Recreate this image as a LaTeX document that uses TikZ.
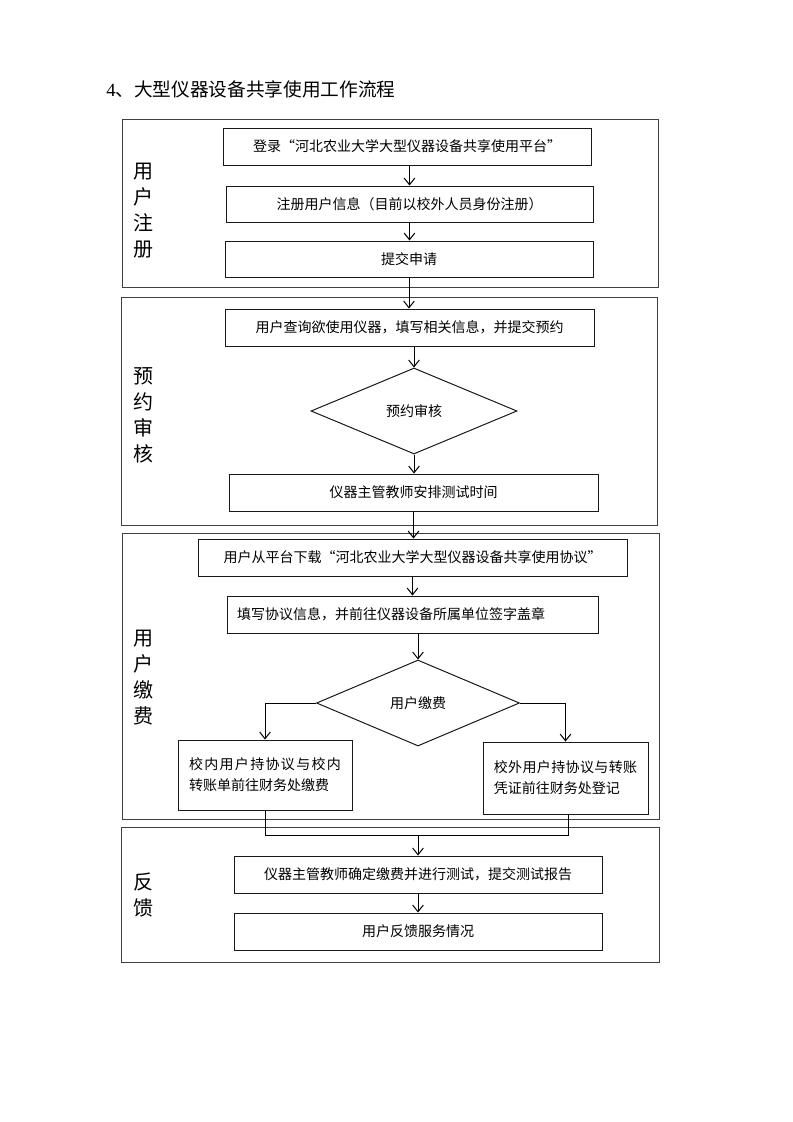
\documentclass[tikz,border=0pt]{standalone}
\usepackage{fontspec}
\setmainfont{Liberation Serif}
\newfontfamily\cjk{Noto Sans CJK SC}
\usetikzlibrary{arrows.meta,shapes.geometric}
\XeTeXlinebreaklocale "zh"
\XeTeXlinebreakskip=0pt plus 2pt
\begin{document}
\begin{tikzpicture}[x=0.75pt,y=-0.75pt,
  wh/.style 2 args={minimum width=#1*0.75pt, minimum height=#2*0.75pt},
  frame/.style={draw=black!75, line width=0.75pt, rectangle, inner sep=0pt},
  box/.style={draw=black!90, line width=0.75pt, rectangle, inner sep=0pt,
    font=\cjk\fontsize{10.5}{15.75}\selectfont},
  dia/.style={draw=black!90, line width=0.75pt, diamond, inner sep=0pt,
    font=\cjk\fontsize{10.5}{13}\selectfont},
  side/.style={font=\cjk\fontsize{15}{19.5}\selectfont, align=center, inner sep=0pt},
  arr/.style={-{Straight Barb[length=5pt,width=8pt]}, line width=0.75pt},
  link/.style={line width=0.75pt}]
\useasboundingbox (0,0) rectangle (793,1122);
\fill[white] (0,0) rectangle (793,1122);

% title
\node[anchor=west, inner sep=0pt, font=\fontsize{14}{16}\selectfont] (title) at (106,89)
  {4\cjk、大型仪器设备共享使用工作流程};

% frames
\node[frame, wh={536}{168}] (f1) at (390,203) {};
\node[frame, wh={536}{228}] (f2) at (389,411) {};
\node[frame, wh={537}{286}] (f3) at (390.5,676) {};
\node[frame, wh={538}{135}] (f4) at (390,894.5) {};

% side labels
\node[side] (s1) at (143,211) {用\\户\\注\\册};
\node[side] (s2) at (143,415.5) {预\\约\\审\\核};
\node[side] (s3) at (143,677.5) {用\\户\\缴\\费};
\node[side] (s4) at (143,895) {反\\馈};

% section 1
\node[box, wh={368}{37}] (b1) at (407,146.5) {登录“河北农业大学大型仪器设备共享使用平台”};
\node[box, wh={367}{36}] (b2) at (409.5,204) {注册用户信息（目前以校外人员身份注册）};
\node[box, wh={368}{36}] (b3) at (409,259) {提交申请};

% section 2
\node[box, wh={369}{37}] (b4) at (409.5,327.5) {用户查询欲使用仪器，填写相关信息，并提交预约};
\node[dia, wh={206}{86}] (d1) at (414,411) {预约审核};
\node[box, wh={369}{37}] (b5) at (413.5,492.5) {仪器主管教师安排测试时间};

% section 3
\node[box, wh={429}{37}] (b6) at (412.5,557.5) {用户从平台下载“河北农业大学大型仪器设备共享使用协议”};
\node[box, wh={369}{37}, align=left, text width=351*0.75pt, inner xsep=7.5pt] (b7) at (412.5,614.5)
  {填写协议信息，并前往仪器设备所属单位签字盖章};
\node[dia, wh={203}{86}] (d2) at (418,703) {用户缴费};
\node[box, wh={174}{70}, text width=114pt, align=justify] (b8) at (265,775)
  {校内用户持协议与校内转账单前往财务处缴费};
\node[box, wh={165}{72}, text width=107.5pt, align=justify] (b9) at (565.5,778)
  {校外用户持协议与转账凭证前往财务处登记};

% section 4
\node[box, wh={368}{37}] (b10) at (418,874.5) {仪器主管教师确定缴费并进行测试，提交测试报告};
\node[box, wh={368}{37}] (b11) at (418,931.5) {用户反馈服务情况};

\coordinate (j) at (418,835);

% connectors
\draw[arr] (b1.south -| b2.north) -- (b2.north);
\draw[arr] (b2.south) -- (b2.south |- b3.north);
\draw[arr] (b3.south) -- (b3.south |- b4.north);
\draw[arr] (d1.north |- b4.south) -- (d1.north);
\draw[arr] (d1.south) -- (d1.south |- b5.north);
\draw[arr] (b5.south) -- (b5.south |- b6.north);
\draw[arr] (b6.south) -- (b6.south |- b7.north);
\draw[arr] (d2.north |- b7.south) -- (d2.north);
\draw[arr] (d2.west) -| (b8.north);
\draw[arr] (d2.east) -| (b9.north);
\draw[link] (b8.south) |- (j) -| ([xshift=2.6pt]b9.south);
\draw[arr] (j) -- (j |- b10.north);
\draw[arr] (b10.south) -- (b11.north);
\end{tikzpicture}
\end{document}
